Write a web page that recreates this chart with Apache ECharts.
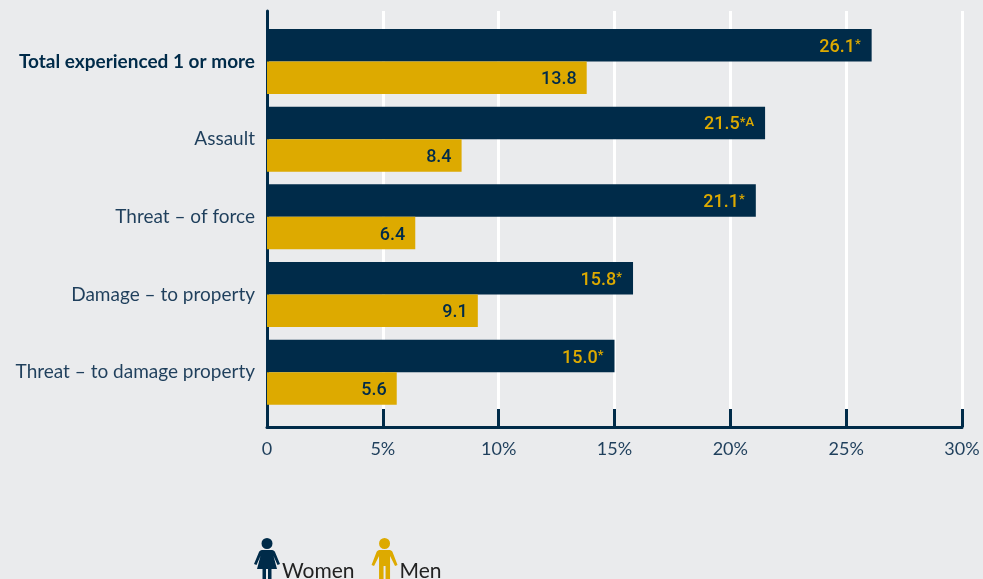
<!DOCTYPE html>
<html>
<head>
<meta charset="utf-8">
<title>Violence experienced by women and men</title>
<script src="https://cdn.jsdelivr.net/npm/echarts@6/dist/echarts.min.js"></script>
<style>
  html, body { margin: 0; padding: 0; background: #eaebed; }
  #chart { width: 983px; height: 579px; }
</style>
</head>
<body>
<div id="chart"></div>
<script>
var categories = ['Total experienced 1 or more', 'Assault', 'Threat \u2013 of force', 'Damage \u2013 to property', 'Threat \u2013 to damage property'];
var women = [26.1, 21.5, 21.1, 15.8, 15.0];
var men = [13.8, 8.4, 6.4, 9.1, 5.6];
var womenNotes = ['*', '*A', '*', '*', '*'];
var xTicks = [0, 5, 10, 15, 20, 25, 30];

var NAVY = '#002b49';
var GOLD = '#ddaa00';
var FONT = 'Lato';
var VALUE_FONT = 'Roboto';

var womanIcon = 'path://M13 0A5.5 5.5 0 1 1 13 11A5.5 5.5 0 1 1 13 0ZM8 12L18 12C19.5 12 20.5 13 21 14L26 26L23.5 27L19.5 18L23 31L17.5 31L17.5 41L14 41L14 31L12 31L12 41L8.5 41L8.5 31L3 31L6.5 18L2.5 27L0 26L5 14C5.500 13 6.500 12 8 12Z';
var manIcon = 'path://M13 0A5.5 5.5 0 1 1 13 11A5.5 5.5 0 1 1 13 0ZM8 12L18 12C19.5 12 20.500 13 21 14L26 27L23.500 28L18.500 18L18.500 41L14 41L14 28L12 28L12 41L7.500 41L7.500 18L2.500 28L0 27L5 14C5.500 13 6.500 12 8 12Z';

var chart = echarts.init(document.getElementById('chart'));
chart.setOption({
  animation: false,
  backgroundColor: '#eaebed',
  textStyle: { fontFamily: FONT },
  legend: {
    left: 254,
    top: 538,
    padding: 0,
    itemWidth: 26,
    itemHeight: 41,
    itemGap: 17,
    itemStyle: { borderWidth: 0 },
    formatter: '{t|{name}}',
    textStyle: {
      padding: [0, 0, 0, -3],
      rich: { t: { fontFamily: FONT, fontSize: 21, color: '#222222', padding: [26, 0, 0, 0] } }
    },
    data: [
      { name: 'Women', icon: womanIcon },
      { name: 'Men', icon: manIcon }
    ]
  },
  // grid 0 holds the frame and gridlines, grid 1 the bars: the axis runs past the rows
  grid: [
    { left: 267, width: 695, top: 11, height: 416 },
    { left: 267, width: 695, top: 22.6, height: 388.5 }
  ],
  xAxis: [
    {
      gridIndex: 0, type: 'value', min: 0, max: 30, interval: 5,
      axisLine: { show: true, lineStyle: { color: NAVY, width: 3 } },
      axisTick: { show: true, inside: true, length: 18, lineStyle: { color: NAVY, width: 3 } },
      splitLine: { show: true, lineStyle: { color: '#ffffff', width: 3 } },
      axisLabel: {
        show: true, margin: 13, fontFamily: FONT, fontSize: 18, color: '#1f3f5c',
        hideOverlap: false, showMinLabel: true, showMaxLabel: true,
        formatter: function (v) { return xTicks.indexOf(v) === 0 ? '0' : v + '%'; }
      }
    },
    {
      gridIndex: 1, type: 'value', min: 0, max: 30, interval: 5,
      axisLine: { show: false }, axisTick: { show: false },
      splitLine: { show: false }, axisLabel: { show: false }
    }
  ],
  yAxis: [
    {
      gridIndex: 0, type: 'value', min: 0, max: 1,
      axisLine: { show: true, lineStyle: { color: NAVY, width: 3 } },
      axisTick: { show: false }, splitLine: { show: false }, axisLabel: { show: false }
    },
    {
      gridIndex: 1, type: 'category', inverse: true, data: categories,
      axisLine: { show: false }, axisTick: { show: false }, splitLine: { show: false },
      axisLabel: {
        margin: 12, fontFamily: FONT, fontSize: 19, color: '#1f3f5c',
        formatter: function (v, i) { return i === 0 ? '{b|' + v + '}' : v; },
        rich: { b: { fontFamily: FONT, fontSize: 19, fontWeight: 'bold', color: NAVY } }
      }
    }
  ],
  series: [
    {
      name: 'Women', type: 'bar', xAxisIndex: 1, yAxisIndex: 1, z: 3,
      barWidth: 32.5, barGap: 0, data: women,
      itemStyle: { color: NAVY },
      label: {
        show: true, position: 'insideRight', distance: 11, offset: [0, 2],
        formatter: function (p) {
          return '{v|' + p.value.toFixed(1) + '}{n|' + womenNotes[p.dataIndex] + '}';
        },
        rich: {
          v: { fontFamily: VALUE_FONT, fontSize: 18, fontWeight: 500, color: GOLD },
          n: { fontFamily: VALUE_FONT, fontSize: 13, fontWeight: 500, color: GOLD, verticalAlign: 'top', padding: [0, 0, 2, 0] }
        }
      }
    },
    {
      name: 'Men', type: 'bar', xAxisIndex: 1, yAxisIndex: 1, z: 3,
      barWidth: 32.5, barGap: 0, data: men,
      itemStyle: { color: GOLD },
      label: {
        show: true, position: 'insideRight', distance: 10, offset: [0, 2],
        fontFamily: VALUE_FONT, fontSize: 18, fontWeight: 500, color: NAVY,
        formatter: function (p) { return p.value.toFixed(1); }
      }
    }
  ]
});
</script>
</body>
</html>
